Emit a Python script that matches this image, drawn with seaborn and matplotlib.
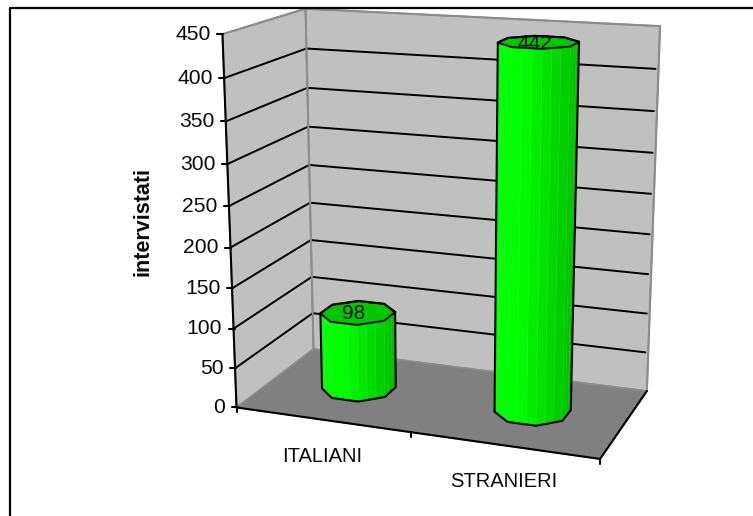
import numpy as np
import pandas as pd
import matplotlib
matplotlib.use("Agg")
import matplotlib.pyplot as plt
import seaborn as sns

# Chart content
categories = ["ITALIANI", "STRANIERI"]
values = [98, 442]
value_ticks = [0, 50, 100, 150, 200, 250, 300, 350, 400, 450]
y_label = "intervistati"
VALUE_MAX = 450

# Colours
WALL = "#c0c0c0"
FLOOR = "#808080"
EDGE = "#8c8c8c"
TOP = "#00c800"
INK = "#0a0a0a"

sns.set_style("white")
plt.rcParams["font.family"] = ["Liberation Sans", "DejaVu Sans"]

fig = plt.figure(figsize=(7.53, 5.16), dpi=100)
ax = fig.add_axes([0, 0, 1, 1])
ax.set_axis_off()


def fit_camera(pairs):
    """Perspective camera for the unit box (category, depth, value) -> canvas."""
    rows, rhs = [], []
    for (x, y, z), (u, v) in pairs:
        rows.append([x, y, z, 1, 0, 0, 0, 0, -u * x, -u * y, -u * z])
        rhs.append(u)
        rows.append([0, 0, 0, 0, x, y, z, 1, -v * x, -v * y, -v * z])
        rhs.append(v)
    sol = np.linalg.lstsq(np.array(rows, float), np.array(rhs, float), rcond=None)[0]
    return np.append(sol, 1.0).reshape(3, 4)


CAMERA = fit_camera([
    ((0, 0, 0), (237, 408.5)), ((1, 0, 0), (600, 458)),
    ((0, 1, 0), (313, 348)), ((1, 1, 0), (647, 392)),
    ((0, 0, 1), (222, 34)), ((0, 1, 1), (306, 9)),
    ((1, 1, 1), (660, 26)),
])


def project(x, y, v):
    """Canvas position of a category position, depth and data value."""
    h = CAMERA @ np.array([x, y, v / VALUE_MAX, 1.0])
    return h[0] / h[2], h[1] / h[2]


def hull(points):
    pts = sorted(map(tuple, points))
    def half(seq):
        out = []
        for p in seq:
            while len(out) > 1 and np.cross(np.subtract(out[-1], out[-2]),
                                            np.subtract(p, out[-1])) <= 0:
                out.pop()
            out.append(p)
        return out[:-1]
    return half(pts) + half(pts[::-1])


# Walls and floor
left_wall = [project(0, 0, 0), project(0, 1, 0), project(0, 1, VALUE_MAX), project(0, 0, VALUE_MAX)]
back_wall = [project(0, 1, 0), project(1, 1, 0), project(1, 1, VALUE_MAX), project(0, 1, VALUE_MAX)]
floor = [project(0, 0, 0), project(1, 0, 0), project(1, 1, 0), project(0, 1, 0)]
for poly, colour in ((left_wall, WALL), (back_wall, WALL), (floor, FLOOR)):
    ax.fill(*zip(*poly), facecolor=colour, edgecolor=EDGE, linewidth=1.2, zorder=1)

# Gridlines follow the left wall and stop just short of the back wall's right edge
grid_rows = []
for v in value_ticks[1:-1]:
    for x, y in ((0, 0), (0, 1), (0.992, 1)):
        px, py = project(x, y, v)
        grid_rows.append({"level": v, "px": px, "py": py})
grid = pd.DataFrame(grid_rows)
sns.lineplot(data=grid, x="px", y="py", units="level", estimator=None, sort=False,
             color="black", linewidth=1.4, legend=False, ax=ax, zorder=2)

# Grey edges of the box stay in front of the gridlines
ax.plot(*zip(project(0, 1, 0), project(0, 1, VALUE_MAX)), color=EDGE, lw=1.5, zorder=2.5)
ax.plot(*zip(project(1, 1, 0), project(1, 1, VALUE_MAX)), color=EDGE, lw=1.5, zorder=2.5)
ax.plot(*zip(project(0, 0, VALUE_MAX), project(0, 1, VALUE_MAX), project(1, 1, VALUE_MAX)),
        color=EDGE, lw=1.5, zorder=2.5)

# Value axis with ticks and labels
ax.plot(*zip(project(0, 0, 0), project(0, 0, VALUE_MAX)), color="black", lw=1.5, zorder=3)
for v in value_ticks:
    px, py = project(0, 0, v)
    ax.plot([px - 5, px + 1], [py, py], color="black", lw=1.5, zorder=3)
    ax.text(px - 11.5, py, str(v), ha="right", va="center", fontsize=15.2, color=INK, zorder=6)

# Category axis along the floor's front edge
ax.plot(*zip(project(0, 0, 0), project(1, 0, 0), project(1, 1, 0)), color="black", lw=1.5, zorder=3)
for x in (0, 0.5, 1):
    px, py = project(x, 0, 0)
    ax.plot([px, px], [py, py + 5], color="black", lw=1.5, zorder=3)
for i, name in enumerate(categories):
    px, py = project(0.25 + 0.5 * i, 0, 0)
    ax.text(px, py + 36.5, name, ha="center", va="center", fontsize=14.5, color=INK, zorder=6)

ax.text(143, 222, y_label, rotation=90, ha="center", va="center",
        fontsize=15.5, fontweight="bold", color=INK, zorder=6)

# Cylindrical bars: an octagonal outline with finer shading strips on the visible side
SIDES = 8
STRIPS = 3
RADIUS_X, RADIUS_Y = 0.101, 0.21
angles = np.linspace(0, 2 * np.pi, SIDES + 1) + np.pi / SIDES
for i, v in enumerate(values):
    cx = 0.25 + 0.5 * i
    ring = [(cx + RADIUS_X * np.cos(a), 0.5 + RADIUS_Y * np.sin(a)) for a in angles]
    base = [project(x, y, 0) for x, y in ring]
    top = [project(x, y, v) for x, y in ring]
    xs = [p[0] for p in base]
    x_lo, x_hi = min(xs), max(xs)
    zo = 4 + i
    for k in range(SIDES):
        mid = (angles[k] + angles[k + 1]) / 2
        if np.sin(mid) > 0.05:
            continue  # facet faces the back wall
        (x0, y0), (x1, y1) = ring[k], ring[k + 1]
        for s in range(STRIPS):
            f0, f1 = s / STRIPS, (s + 1) / STRIPS
            a = (x0 + (x1 - x0) * f0, y0 + (y1 - y0) * f0)
            b = (x0 + (x1 - x0) * f1, y0 + (y1 - y0) * f1)
            quad = [project(*a, 0), project(*b, 0), project(*b, v), project(*a, v)]
            t = (project(*a, 0)[0] + project(*b, 0)[0]) / 2
            t = (t - x_lo) / (x_hi - x_lo)
            green = (255 - 65 * np.clip((t - 0.3) / 0.7, 0, 1)) / 255
            ax.fill(*zip(*quad), facecolor=(0, green, 0), edgecolor=(0, green, 0),
                    linewidth=0.3, zorder=zo)
            ax.plot(*zip(quad[1], quad[2]), color=(0.12, min(green + 0.03, 1), 0.12),
                    lw=0.4, zorder=zo + 0.05)
    ax.fill(*zip(*top), facecolor=TOP, edgecolor="black", linewidth=1.4, zorder=zo + 0.1)
    outline = hull(base[:-1] + top[:-1])
    ax.fill(*zip(*outline), facecolor="none", edgecolor="black", linewidth=1.5, zorder=zo + 0.2)
    tx, ty = project(cx, 0.5, v)
    ax.text(tx - 4, ty + 1, str(v), ha="center", va="center", fontsize=15, color=INK, zorder=7)

# Chart area border: only the top and left sides fall inside the canvas
ax.plot([10.5, 753], [7.5, 7.5], color="black", lw=1.6, zorder=8)
ax.plot([10.5, 10.5], [7.5, 516], color="black", lw=1.6, zorder=8)

ax.set_xlim(0, 753)
ax.set_ylim(516, 0)
fig.savefig("out.png", dpi=100)
